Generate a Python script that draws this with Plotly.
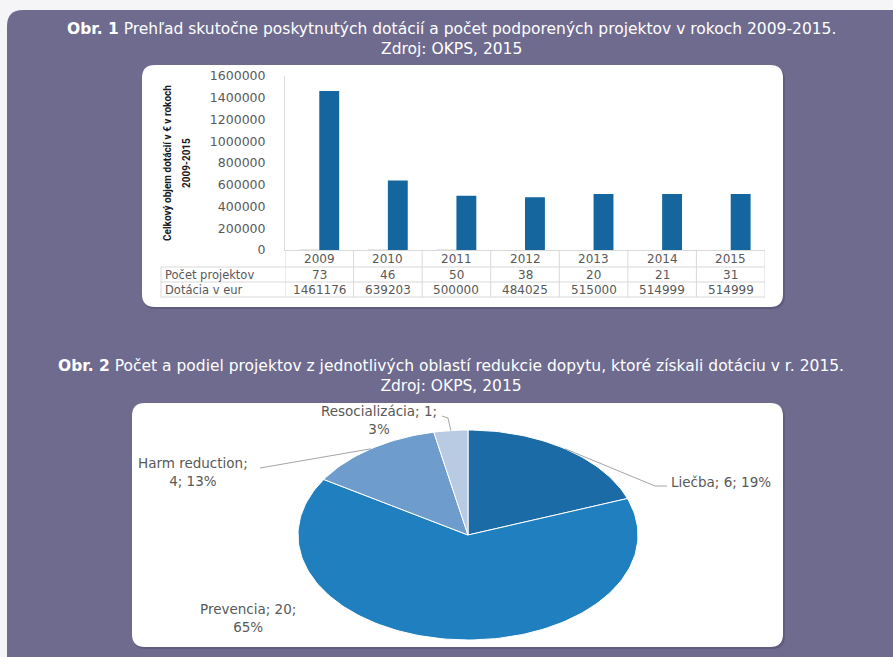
import math
import plotly.graph_objects as go

W, H = 893, 657

# --- data -------------------------------------------------------------
years = ["2009", "2010", "2011", "2012", "2013", "2014", "2015"]
project_counts = [73, 46, 50, 38, 20, 21, 31]
subsidy_eur = [1461176, 639203, 500000, 484025, 515000, 514999, 514999]
y_tick_values = [0, 200000, 400000, 600000, 800000, 1000000, 1200000, 1400000, 1600000]
row_labels = ["Počet projektov", "Dotácia v eur"]

areas = ["Liečba", "Prevencia", "Harm reduction", "Resocializácia"]
area_projects = [6, 20, 4, 1]
area_colors = ["#1A6BA6", "#1F7FBF", "#6E9CCD", "#B9CAE3"]

title1 = ("<b>Obr. 1</b> Prehľad skutočne poskytnutých dotácií a počet podporených projektov v rokoch 2009-2015."
          "<br>Zdroj: OKPS, 2015")
title2 = ("<b>Obr. 2</b> Počet a podiel projektov z jednotlivých oblastí redukcie dopytu, ktoré získali dotáciu v r. 2015."
          "<br>Zdroj: OKPS, 2015")
axis_title_lines = ["Celkový objem dotácií v € v rokoch", "2009-2015"]

# --- helpers (pixel -> paper) -----------------------------------------
def px(x):
    return x / W


def py(y):
    return 1 - y / H


def rounded_rect(x0, y0, x1, y1, r):
    pts = [
        ("M", x0 + r, y0), ("L", x1 - r, y0), ("Q", x1, y0, x1, y0 + r),
        ("L", x1, y1 - r), ("Q", x1, y1, x1 - r, y1), ("L", x0 + r, y1),
        ("Q", x0, y1, x0, y1 - r), ("L", x0, y0 + r), ("Q", x0, y0, x0 + r, y0),
    ]
    out = []
    for p in pts:
        s = p[0]
        coords = p[1:]
        for i in range(0, len(coords), 2):
            s += f" {px(coords[i]):.5f},{py(coords[i + 1]):.5f}"
        out.append(s)
    return " ".join(out) + " Z"


GREY_TXT = "#595959"
GRID = "#D9D9D9"
FONT = "DejaVu Sans"

fig = go.Figure()

# --- bar chart (two clustered series; project counts vanish at this scale)
fig.add_trace(go.Bar(x=years, y=project_counts, name=row_labels[0],
                     marker=dict(color="#E6E6E6", line=dict(width=0)),
                     showlegend=False, hoverinfo="skip"))
fig.add_trace(go.Bar(x=years, y=subsidy_eur, name=row_labels[1],
                     marker=dict(color="#15659F", line=dict(width=0)),
                     showlegend=False))

# --- pie drawn as elliptical wedges on a pixel-scaled overlay axis ------
cx, cy, rx, ry = 468, 535, 170, 105
total = sum(area_projects)
shares = [v / total for v in area_projects]
start = 0.0
mid_points = []
for name, val, share, col in zip(areas, area_projects, shares, area_colors):
    a0 = start * 2 * math.pi
    a1 = (start + share) * 2 * math.pi
    n = max(4, int(share * 240))
    xs, ys = [cx], [cy]
    for k in range(n + 1):
        a = a0 + (a1 - a0) * k / n
        xs.append(cx + rx * math.sin(a))
        ys.append(cy - ry * math.cos(a))
    xs.append(cx)
    ys.append(cy)
    fig.add_trace(go.Scatter(x=xs, y=ys, mode="lines", fill="toself",
                             fillcolor=col, line=dict(color="white", width=1),
                             name=name, showlegend=False, hoverinfo="skip",
                             xaxis="x2", yaxis="y2"))
    am = (a0 + a1) / 2
    mid_points.append((cx + rx * math.sin(am), cy - ry * math.cos(am)))
    start += share

pct = [f"{round(s * 100 + 1e-9)}%" for s in shares]
pie_labels = {
    "Liečba": (f"{areas[0]}; {area_projects[0]}; {pct[0]}", 669, 482, "left"),
    "Prevencia": (f"{areas[1]}; {area_projects[1]};<br>{pct[1]}", 248, 618, "center"),
    "Harm reduction": (f"{areas[2]};<br>{area_projects[2]}; {pct[2]}", 193, 472, "center"),
    "Resocializácia": (f"{areas[3]}; {area_projects[3]};<br>{pct[3]}", 379, 420, "center"),
}

# --- background panel and white cards ----------------------------------
shapes = []
shapes.append(dict(type="path", xref="paper", yref="paper", layer="below",
                   path=rounded_rect(7, 10, W + 40, H + 40, 16),
                   fillcolor="#6E6B8F", line=dict(width=0)))
for (x0, y0, x1, y1) in [(142, 65, 783, 307), (132, 403, 783, 647)]:
    shapes.append(dict(type="path", xref="paper", yref="paper", layer="below",
                       path=rounded_rect(x0 + 1, y0 + 2, x1 + 2, y1 + 2, 13),
                       fillcolor="#5F5C7E", line=dict(width=0)))
    shapes.append(dict(type="path", xref="paper", yref="paper", layer="below",
                       path=rounded_rect(x0, y0, x1, y1, 13),
                       fillcolor="white", line=dict(width=0)))

# --- data table under the bars -------------------------------------------
t_left, t_axis, t_r1, t_r2, t_bot = 161, 250, 267, 282, 297
for i in range(len(years) + 1):
    shapes.append(dict(type="line", xref="x", yref="paper", x0=i - 0.5, x1=i - 0.5,
                       y0=py(t_axis), y1=py(t_bot), line=dict(color=GRID, width=1)))
shapes.append(dict(type="line", xref="paper", yref="paper", x0=px(t_left), x1=px(t_left),
                   y0=py(t_r1), y1=py(t_bot), line=dict(color=GRID, width=1)))
for yy in (t_r1, t_r2, t_bot):
    shapes.append(dict(type="line", xref="paper", yref="paper", x0=px(t_left), x1=px(765),
                       y0=py(yy), y1=py(yy), line=dict(color=GRID, width=1)))

annotations = []


def note(x, y, text, font, xref="paper", yref="paper", xanchor="center", **kw):
    annotations.append(dict(x=x, y=y, xref=xref, yref=yref, text=text, showarrow=False,
                            xanchor=xanchor, yanchor="middle", font=font, **kw))


num_font = dict(family=FONT, size=12, color=GREY_TXT)
lab_font = dict(family=FONT, size=11.5, color=GREY_TXT)
for i, (yr, cnt, eur) in enumerate(zip(years, project_counts, subsidy_eur)):
    note(i, py(259), yr, num_font, xref="x")
    note(i, py(275), str(cnt), num_font, xref="x")
    note(i, py(289.5), str(eur), num_font, xref="x")
for lab, yy in zip(row_labels, (275, 289.5)):
    note(px(163), py(yy), lab, lab_font, xanchor="left")

# y-axis title (two rotated lines)
for txt, xx in zip(axis_title_lines, (168, 187)):
    note(px(xx), py(163), txt,
         dict(family="Roboto", size=10, color="#1a1a1a", weight="bold"),
         textangle=-90)

# figure captions on the panel
for txt, yy in ((title1, 38.5), (title2, 376)):
    note(px(451), py(yy), txt, dict(family=FONT, size=15.5, color="white"), align="center")

# pie labels and leader lines
for name, (txt, lx, ly, anchor) in pie_labels.items():
    note(lx, ly, txt, dict(family=FONT, size=13.5, color=GREY_TXT),
         xref="x2", yref="y2", xanchor=anchor, align="center")

leaders = {
    "Liečba": [(667, 486), (655, 486)],
    "Harm reduction": [(260, 468)],
    "Resocializácia": [(442, 416), (448, 418)],
}
for idx, name in enumerate(areas):
    if name not in leaders:
        continue
    pts = leaders[name] + [mid_points[idx]]
    path = "M " + " L ".join(f"{x:.1f},{y:.1f}" for x, y in pts)
    shapes.append(dict(type="path", xref="x2", yref="y2", path=path,
                       line=dict(color="#A6A6A6", width=1)))

fig.update_layout(
    template="none",
    width=W, height=H,
    margin=dict(l=0, r=0, t=0, b=0, pad=0, autoexpand=False),
    paper_bgcolor="#F5F5F7",
    plot_bgcolor="rgba(0,0,0,0)",
    barmode="group", bargap=0.42, bargroupgap=0,
    showlegend=False,
    shapes=shapes,
    annotations=annotations,
    xaxis=dict(domain=[px(285), px(765)], type="category", range=[-0.5, 6.5],
               showticklabels=False, showline=True, linecolor=GRID, ticks="",
               showgrid=False, zeroline=False, fixedrange=True, automargin=False),
    yaxis=dict(domain=[py(250), py(76)], range=[0, 1600000], tickvals=y_tick_values,
               tickformat="d", showline=True, linecolor=GRID, showgrid=False,
               zeroline=False, ticks="", ticklabelstandoff=16, automargin=False,
               tickfont=dict(family=FONT, size=12.5, color=GREY_TXT)),
    xaxis2=dict(domain=[0, 1], range=[0, W], visible=False, anchor="y2",
                fixedrange=True, automargin=False),
    yaxis2=dict(domain=[0, 1], range=[H, 0], visible=False, anchor="x2",
                fixedrange=True, automargin=False),
)

fig.write_html("out.html")
